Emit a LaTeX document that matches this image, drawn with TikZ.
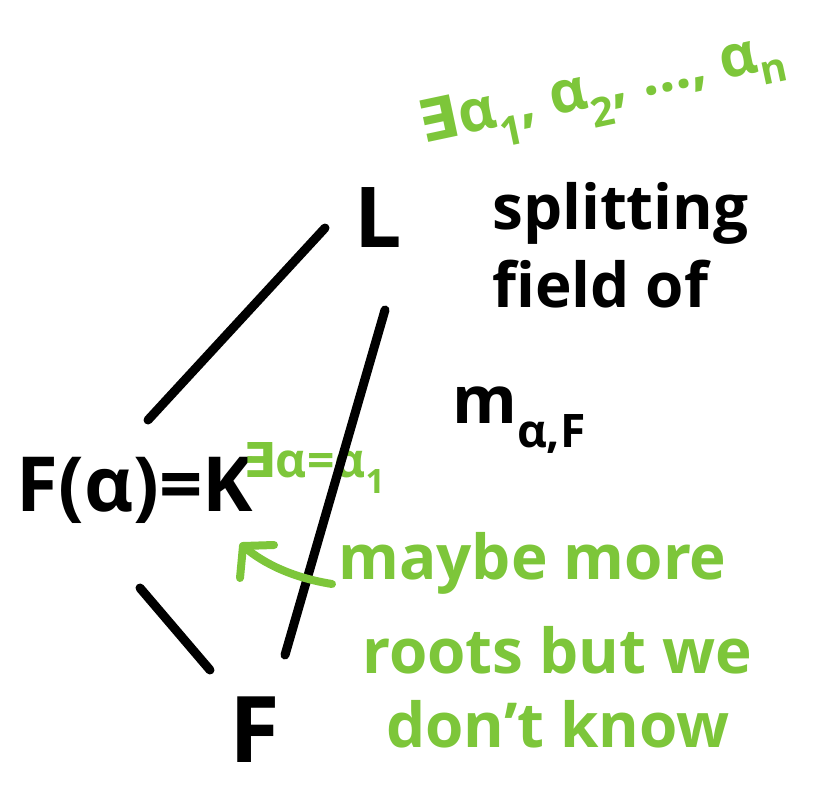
\documentclass[tikz,border=0pt]{standalone}
\usepackage{fontspec}
\setmainfont{Open Sans}
\newfontfamily\symfont{DejaVu Sans}
\usetikzlibrary{arrows.meta}
\definecolor{hgreen}{HTML}{7DC63A}
\tikzset{
  blk/.style={text=black,font=\bfseries,inner sep=0pt},
  grn/.style={text=hgreen,font=\bfseries,inner sep=0pt},
  edge/.style={draw=black,line width=9pt,line cap=round},
  garrow/.style={draw=hgreen,line width=8pt,line cap=round,line join=round}
}
\begin{document}
\begin{tikzpicture}[x=1pt,y=-1pt]
\useasboundingbox (0,0) rectangle (827,790);
% main nodes
\node[blk,font=\fontsize{84}{84}\selectfont\bfseries] (L) at (378,218) {L};
\node[blk,font=\fontsize{76}{76}\selectfont\bfseries] (K) at (135,490) {F(α)=K};
\node[blk,font=\fontsize{92}{92}\selectfont\bfseries] (F) at (255,730) {F};
% side texts
\node[blk,font=\fontsize{62}{78}\selectfont\bfseries,align=left,anchor=north west] (split) at (492,182) {splitting\\field of};
\node[blk,font=\fontsize{66}{66}\selectfont\bfseries,anchor=west] (m) at (452,420) {m\textsubscript{α,F}};
\node[grn,font=\fontsize{58}{58}\selectfont\bfseries,rotate=12] (roots) at (603,94) {{\symfont ∃}α\textsubscript{1}, α\textsubscript{2}, …, α\textsubscript{n}};
\node[grn,font=\fontsize{48}{48}\selectfont\bfseries,anchor=west] (eq) at (243,468) {{\symfont ∃}α=α\textsubscript{1}};
\node[grn,font=\fontsize{62}{94}\selectfont\bfseries,align=left,anchor=north west] (note) at (338,532) {maybe more\\\hspace*{24pt}roots but we\\[-20pt]\hspace*{48pt}don't know};
% connectors
\coordinate (La) at (325,228);
\coordinate (Ka) at (148,420);
\coordinate (Lb) at (385,310);
\coordinate (Fb) at (285,655);
\coordinate (Kc) at (140,588);
\coordinate (Fc) at (210,670);
\draw[edge] (La) -- (Ka);
\draw[edge] (Lb) -- (Fb);
\draw[edge] (Kc) -- (Fc);
% green arrow
\coordinate (As) at (332,584);
\coordinate (Ae) at (243,546);
\draw[garrow] (As) .. controls (295,578) and (265,565) .. (Ae);
\draw[garrow] (240,578) -- (Ae) -- (274,545);
\end{tikzpicture}
\end{document}
